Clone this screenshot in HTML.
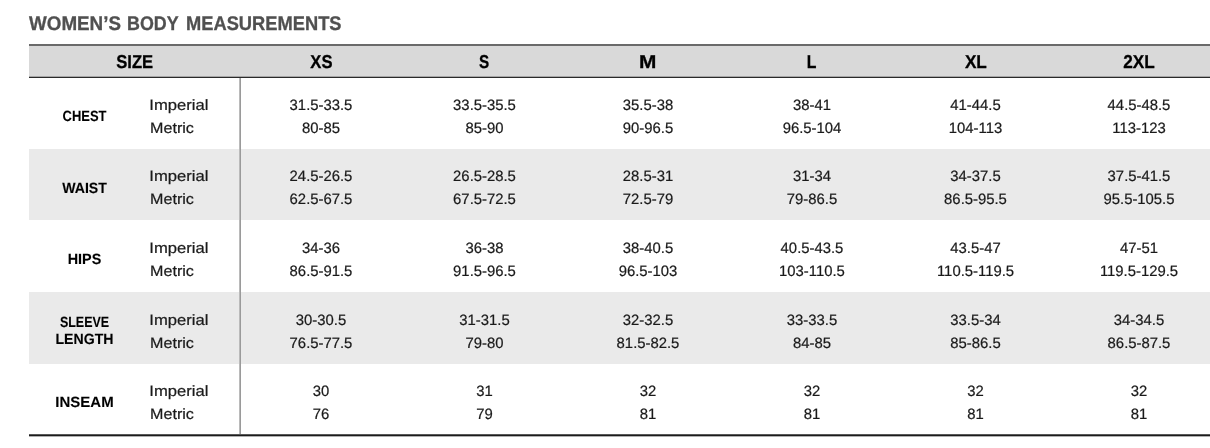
<!DOCTYPE html>
<html lang="en">
<head>
<meta charset="utf-8">
<title>Women’s Body Measurements</title>
<style>
*{box-sizing:border-box;margin:0;padding:0}
html,body{width:1210px;height:448px;background:#fff;overflow:hidden}
body{font-family:"Liberation Sans",sans-serif;color:#1a1a1a;text-rendering:geometricPrecision}
.chart{position:relative;width:1210px;height:448px;overflow:hidden}
.title{position:absolute;left:0;top:12px;width:400px;height:24px;font-size:19.6px;line-height:24px;font-weight:bold;color:#505050;white-space:nowrap;-webkit-text-stroke:0.3px #505050}
.title span{position:absolute;top:0;left:28.7px;transform-origin:0 50%;transform:scaleX(0.96)}
.title .t2{left:126.8px;transform:scaleX(0.912)}
.title .t3{left:185.75px;transform:scaleX(0.934)}
.sizes{position:absolute;left:29px;top:44px;width:1192px;border-collapse:collapse;border-spacing:0;table-layout:fixed}
.c-label{width:111px}.c-unit{width:99px}.c-val{width:164px}.c-val.n{width:163px}
thead tr{height:34px;background:#d9d9d9}
thead th{font-size:18.6px;font-weight:bold;color:#000;-webkit-text-stroke:0.3px #000;text-align:center;vertical-align:top;padding:0;height:34px;line-height:34px}
thead th span{display:inline-block;position:relative;top:1px;transform:scaleX(0.893)}
thead th.h-size span{left:0.6px}
thead th .s-m{transform:scaleX(1.12)}
thead th .s-s{transform:scaleX(0.82)}
thead th .s-l{transform:scaleX(0.85)}
thead th .s-xl{transform:scaleX(0.925)}
thead th .s-2xl{transform:scaleX(0.925)}
tbody tr{height:71px}
tbody tr.r3,tbody tr.r4{height:72px}
tbody tr.alt{background:#eaeaea}
tbody th,tbody td{padding:0;vertical-align:top;font-size:15px;font-weight:normal;-webkit-text-stroke:0.22px #1a1a1a}
.label{font-weight:bold;font-size:14.8px;text-align:center;color:#000;-webkit-text-stroke:0.1px #000}
.label span{display:block;line-height:17px;padding-top:31px;transform:scaleX(0.876)}
.label .n2{padding-top:32px;transform:scaleX(0.954)}
.label .n3{padding-top:32px;transform:scaleX(0.973)}
.label .n5{transform:scaleX(1.012)}
.label.two span{padding-top:23px;transform:none}
.label b{display:block;font-weight:bold}
.label .w1{transform:scaleX(0.842)}
.label .w2{transform:scaleX(0.954)}
.unit{text-align:left;padding-left:9px}
.unit span,.val span{display:block;height:23px;line-height:23px;white-space:nowrap}
.unit span{transform:translateX(0.35px) scaleX(1.108);transform-origin:0 50%}
.unit .l2{transform:translateX(1.1px) scaleX(1.072)}
.val span{transform:scaleX(0.99)}
.val{text-align:center}
.l1{margin-top:16px}
.r3 .l1,.r4 .l1{margin-top:17px}
.vline{position:absolute;left:239px;top:78px;width:2px;height:356px;background:linear-gradient(90deg,#bababa 0,#bababa 1px,#9a9a9a 1px,#9a9a9a 2px)}
.topline{position:absolute;left:29px;top:44px;width:1181px;height:2px;background:#6a6a6a}
.headline{position:absolute;left:29px;top:76px;width:1181px;height:2px;background:linear-gradient(180deg,#a6a6a6 0,#a6a6a6 1px,#2a2a2a 1px,#2a2a2a 2px)}
.botline{position:absolute;left:29px;top:434px;width:1181px;height:3px;background:linear-gradient(180deg,#585858 0,#585858 1px,#1c1c1c 1px,#1c1c1c 2px,#b0b0b0 2px,#b0b0b0 3px)}
</style>
</head>
<body>
<main class="chart">
<h1 class="title"><span class="t1">WOMEN’S</span> <span class="t2">BODY</span> <span class="t3">MEASUREMENTS</span></h1>
<table class="sizes">
<colgroup><col class="c-label"><col class="c-unit"><col class="c-val"><col class="c-val n"><col class="c-val"><col class="c-val"><col class="c-val n"><col class="c-val"></colgroup>
<thead>
<tr><th colspan="2" class="h-size"><span>SIZE</span></th><th><span class="s-xs">XS</span></th><th><span class="s-s">S</span></th><th><span class="s-m">M</span></th><th><span class="s-l">L</span></th><th><span class="s-xl">XL</span></th><th><span class="s-2xl">2XL</span></th></tr>
</thead>
<tbody>
<tr class="r1 plain"><th scope="row" class="label"><span class="n1">CHEST</span></th><td class="unit"><span class="l1">Imperial</span> <span class="l2">Metric</span></td><td class="val"><span class="l1">31.5-33.5</span> <span class="l2">80-85</span></td><td class="val"><span class="l1">33.5-35.5</span> <span class="l2">85-90</span></td><td class="val"><span class="l1">35.5-38</span> <span class="l2">90-96.5</span></td><td class="val"><span class="l1">38-41</span> <span class="l2">96.5-104</span></td><td class="val"><span class="l1">41-44.5</span> <span class="l2">104-113</span></td><td class="val"><span class="l1">44.5-48.5</span> <span class="l2">113-123</span></td></tr>
<tr class="r2 alt"><th scope="row" class="label"><span class="n2">WAIST</span></th><td class="unit"><span class="l1">Imperial</span> <span class="l2">Metric</span></td><td class="val"><span class="l1">24.5-26.5</span> <span class="l2">62.5-67.5</span></td><td class="val"><span class="l1">26.5-28.5</span> <span class="l2">67.5-72.5</span></td><td class="val"><span class="l1">28.5-31</span> <span class="l2">72.5-79</span></td><td class="val"><span class="l1">31-34</span> <span class="l2">79-86.5</span></td><td class="val"><span class="l1">34-37.5</span> <span class="l2">86.5-95.5</span></td><td class="val"><span class="l1">37.5-41.5</span> <span class="l2">95.5-105.5</span></td></tr>
<tr class="r3 plain"><th scope="row" class="label"><span class="n3">HIPS</span></th><td class="unit"><span class="l1">Imperial</span> <span class="l2">Metric</span></td><td class="val"><span class="l1">34-36</span> <span class="l2">86.5-91.5</span></td><td class="val"><span class="l1">36-38</span> <span class="l2">91.5-96.5</span></td><td class="val"><span class="l1">38-40.5</span> <span class="l2">96.5-103</span></td><td class="val"><span class="l1">40.5-43.5</span> <span class="l2">103-110.5</span></td><td class="val"><span class="l1">43.5-47</span> <span class="l2">110.5-119.5</span></td><td class="val"><span class="l1">47-51</span> <span class="l2">119.5-129.5</span></td></tr>
<tr class="r4 alt"><th scope="row" class="label two"><span class="n4"><b class="w1">SLEEVE</b> <b class="w2">LENGTH</b></span></th><td class="unit"><span class="l1">Imperial</span> <span class="l2">Metric</span></td><td class="val"><span class="l1">30-30.5</span> <span class="l2">76.5-77.5</span></td><td class="val"><span class="l1">31-31.5</span> <span class="l2">79-80</span></td><td class="val"><span class="l1">32-32.5</span> <span class="l2">81.5-82.5</span></td><td class="val"><span class="l1">33-33.5</span> <span class="l2">84-85</span></td><td class="val"><span class="l1">33.5-34</span> <span class="l2">85-86.5</span></td><td class="val"><span class="l1">34-34.5</span> <span class="l2">86.5-87.5</span></td></tr>
<tr class="r5 plain"><th scope="row" class="label"><span class="n5">INSEAM</span></th><td class="unit"><span class="l1">Imperial</span> <span class="l2">Metric</span></td><td class="val"><span class="l1">30</span> <span class="l2">76</span></td><td class="val"><span class="l1">31</span> <span class="l2">79</span></td><td class="val"><span class="l1">32</span> <span class="l2">81</span></td><td class="val"><span class="l1">32</span> <span class="l2">81</span></td><td class="val"><span class="l1">32</span> <span class="l2">81</span></td><td class="val"><span class="l1">32</span> <span class="l2">81</span></td></tr>
</tbody>
</table>
<div class="vline"></div>
<div class="topline"></div>
<div class="headline"></div>
<div class="botline"></div>
</main>
</body>
</html>
